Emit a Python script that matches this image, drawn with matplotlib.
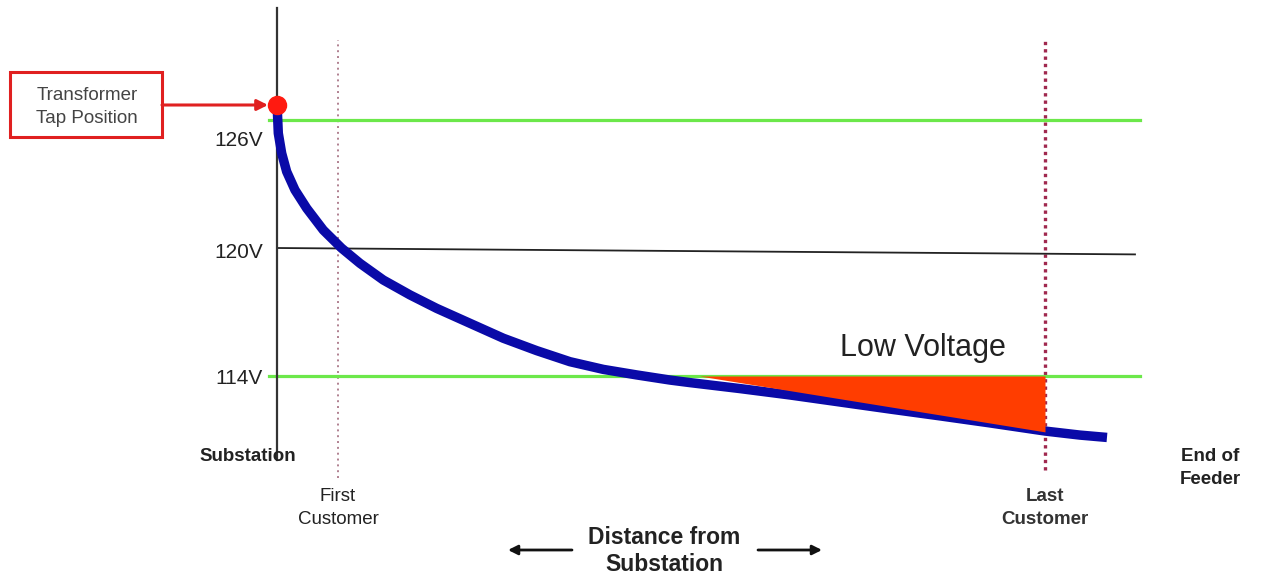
import matplotlib
matplotlib.use("Agg")
import matplotlib.pyplot as plt
from matplotlib.patches import Rectangle
import numpy as np

plt.rcParams['font.family'] = ['Liberation Sans', 'DejaVu Sans']

# ---- data ----
distance = [0.0, 0.004, 0.017, 0.061, 0.126, 0.234, 0.387, 0.603, 0.842,
            1.081, 1.384, 1.732, 2.079, 2.513, 2.947, 3.381, 3.815, 4.249,
            4.684, 5.117, 5.378, 6.029, 6.680, 7.331, 7.982, 8.633, 9.284,
            10.0, 10.456, 10.807]
voltage = [126.66, 126.47, 125.38, 124.44, 123.58, 122.72, 121.86, 120.84,
           119.99, 119.28, 118.50, 117.80, 117.17, 116.47, 115.77, 115.19,
           114.67, 114.31, 114.05, 113.81, 113.69, 113.41, 113.11, 112.78,
           112.45, 112.13, 111.80, 111.42, 111.23, 111.12]
limit_levels = [126, 114]          # green ANSI limits
nominal_level = [120.0, 119.7]     # nominal 120 V line (start, end)
level_labels = ['126V', '120V', '114V']
label_voltage = [125.02, 119.81, 113.9]
customer_pos = [0.79, 10.0]
customer_labels = ['First\nCustomer', 'Last\nCustomer']
low_v_distance = [5.5, 10.0]
low_v_bottom = [114.0, 111.38]
tap_voltage = 126.7
line_end = 11.24

# ---- layout helpers (pixel -> data) ----
PX = 76.8
def P(x, y):
    return ((x - 277) / PX, 126 - (y - 120) * 12 / 256)

W, H = 1261, 582
fig = plt.figure(figsize=(W / 100, H / 100), dpi=100)
ax = fig.add_axes([0, 0, 1, 1])
x0, y0 = P(0, H)
x1, y1 = P(W, 0)
ax.set_xlim(x0, x1)
ax.set_ylim(y0, y1)
ax.axis('off')

d = np.array(distance)
v = np.array(voltage)

# vertical axis line
ya, yb = P(0, 460)[1], P(0, 8)[1]
ax.plot([0, 0], [ya, yb], color='#333333', lw=1.6, zorder=3)

# horizontal limit lines
for lvl in limit_levels:
    ax.plot([-0.1, line_end], [lvl, lvl], color='#6ce84a', lw=2.3, zorder=2)
ax.plot([0, P(1135, 0)[0]], nominal_level, color='#222222', lw=1.3, zorder=2)

# customer dotted lines
top_c = P(0, 40)[1]
ax.plot([customer_pos[0]] * 2, [P(0, 478)[1], top_c], color='#b08090',
        lw=1.4, ls=(0, (1, 2)), zorder=1)
ax.plot([customer_pos[1]] * 2, [P(0, 470)[1], top_c], color='#a0284e',
        lw=2.4, ls=(0, (1, 1.2)), zorder=1)

# voltage curve
ax.plot(d, v, color='#0a0aa8', lw=6.8, solid_capstyle='butt',
        solid_joinstyle='round', zorder=4)

# low voltage region (triangle overlay)
ax.fill_between(low_v_distance, low_v_bottom, 114, color='#ff3d00',
                lw=0, zorder=5)

# tap position dot
ax.plot([0], [tap_voltage], 'o', color='#ff1a10', ms=13, zorder=6)

# transformer box
bx0, by0 = P(10, 137)
bx1, by1 = P(162, 72)
ax.add_patch(Rectangle((bx0, by0), bx1 - bx0, by1 - by0, fill=False,
                       edgecolor='#e02020', lw=2.2, zorder=6))
ax.text(*P(87, 107), 'Transformer\nTap Position', ha='center', va='center',
        fontsize=13.5, color='#444444', linespacing=1.4, zorder=7)
ax.annotate('', xy=P(268, 105), xytext=P(162, 105),
            arrowprops=dict(arrowstyle='-|>', color='#e02020', lw=2.2,
                            mutation_scale=16, shrinkA=0, shrinkB=0))

# voltage labels
for lab, val in zip(level_labels, label_voltage):
    ax.text(P(263, 0)[0], val, lab, ha='right', va='center',
            fontsize=15, color='#222222')

ax.text(*P(923, 348), 'Low Voltage', ha='center', va='center',
        fontsize=22, color='#222222')

ax.text(*P(248, 457), 'Substation', ha='center', va='center',
        fontsize=13.5, fontweight='bold', color='#222222')
ax.text(*P(338, 508), customer_labels[0], ha='center', va='center',
        fontsize=13.5, color='#222222', linespacing=1.48)
ax.text(*P(1045, 508), customer_labels[1], ha='center', va='center',
        fontsize=13.5, fontweight='bold', color='#333333', linespacing=1.45)
ax.text(*P(1210, 468), 'End of\nFeeder', ha='center', va='center',
        fontsize=13.5, fontweight='bold', color='#222222', linespacing=1.48)
ax.text(*P(664, 551), 'Distance from\nSubstation', ha='center', va='center',
        fontsize=16.5, fontweight='bold', color='#222222', linespacing=1.25)

ax.annotate('', xy=P(508, 550), xytext=P(572, 550),
            arrowprops=dict(arrowstyle='-|>', color='#111111', lw=2,
                            mutation_scale=14, shrinkA=0, shrinkB=0))
ax.annotate('', xy=P(822, 550), xytext=P(758, 550),
            arrowprops=dict(arrowstyle='-|>', color='#111111', lw=2,
                            mutation_scale=14, shrinkA=0, shrinkB=0))

fig.savefig('out.png', dpi=100, facecolor='white')
